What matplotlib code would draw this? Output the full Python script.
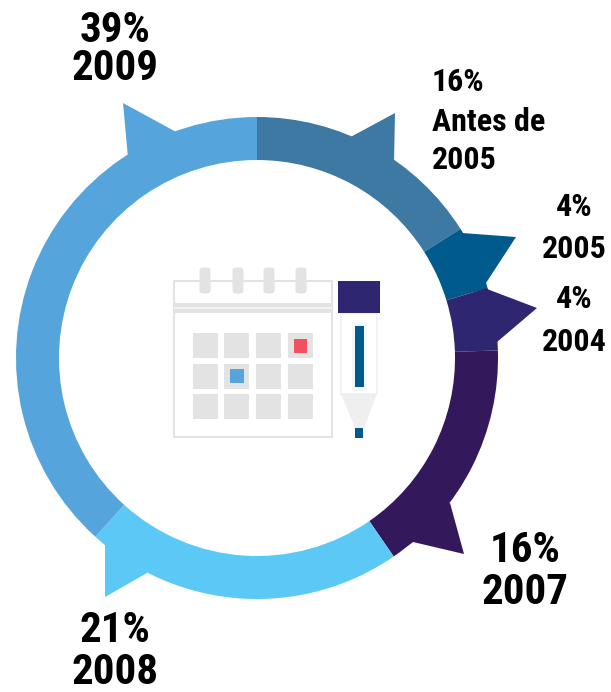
import matplotlib.pyplot as plt
from matplotlib.patches import Polygon, Rectangle, FancyBboxPatch
from matplotlib import font_manager as fm

# arc sweep per period, clockwise from the top, in percent as measured on the ring
periods = ['Antes de 2005', '2005', '2004', '2007', '2008', '2009']
shares = [16.0, 4.3, 4.2, 15.9, 21.3, 38.3]
colors = ['#3E79A3', '#005A8C', '#2E2671', '#33195C', '#5CC8F5', '#55A5DC']

W, H = 611, 692
installed = {f.name for f in fm.fontManager.ttflist}
narrow = ['Liberation Sans Narrow', 'Roboto Condensed', 'Archivo Narrow', 'Encode Sans Condensed', 'Asap Condensed']
plt.rcParams['font.family'] = [f for f in narrow if f in installed] + ['Liberation Sans', 'DejaVu Sans']

fig = plt.figure(figsize=(W / 100, H / 100), dpi=100)
ax = fig.add_axes([0, 0, 1, 1])
ax.set_xlim(0, W)
ax.set_ylim(0, H)
ax.axis('off')


def poly(pts, color, z=1):
    ax.add_patch(Polygon([(x, H - y) for x, y in pts], closed=True, fc=color, ec='none', zorder=z))


def rect(x0, y0, x1, y1, color, z=3, **kw):
    ax.add_patch(Rectangle((x0, H - y1), x1 - x0, y1 - y0, fc=kw.pop('fc', color), ec=kw.pop('ec', 'none'), zorder=z, **kw))


# pointers stuck on the ring
poly([(345, 140), (395, 113), (394, 162), (380, 180)], colors[0])
poly([(462, 233), (516, 237), (486, 283), (487, 290), (450, 295), (440, 250)], colors[1])
poly([(487, 289), (537, 308), (497, 342), (497, 347), (465, 347), (455, 300)], colors[2])
poly([(450, 503), (464, 554), (413, 542), (400, 551), (395, 515)], colors[3])
poly([(100, 540), (105, 545), (105, 597), (147, 573), (160, 540)], colors[4])
poly([(123, 103), (128, 158), (155, 185), (190, 140), (178, 133)], colors[5])

ax.pie(shares, colors=colors, startangle=90, counterclock=False, radius=241,
       center=(257, H - 358), frame=True, wedgeprops=dict(width=43, linewidth=0))
ax.set_xlim(0, W)
ax.set_ylim(0, H)
ax.set_aspect('auto')
ax.axis('off')

# calendar
grey = '#E3E3E3'
ax.add_patch(Rectangle((174, H - 437), 158, 156, fc='white', ec=grey, lw=1.5, zorder=3))
rect(174, 303, 332, 313, grey)
rect(174, 307, 332, 309, '#F4F4F4', z=4)
for x in [205, 238, 269, 301]:
    ax.add_patch(FancyBboxPatch((x - 2, H - 290), 4, 19, boxstyle='round,pad=3.5', fc=grey, ec='none', zorder=4))
for y0 in [333, 364, 394]:
    for x0 in [193, 224, 256, 288]:
        rect(x0, y0, x0 + 25, y0 + 25, grey, z=4)
rect(294, 339, 307, 353, '#F0505F', z=5)
rect(230, 369, 244, 383, '#55A5DC', z=5)

# pen
rect(341, 313, 377, 394, 'white', ec='#F0F0F2', lw=1.2)
rect(352, 322, 367, 391, '#F5F6F8', z=4)
rect(355, 326, 364, 387, colors[1], z=5)
poly([(341, 394), (377, 394), (364, 428), (355, 428)], '#EFEFEF', 3)
rect(355, 428, 363, 438, colors[1])
rect(338, 281, 380, 313, colors[2], z=5)

big = dict(fontsize=31, fontweight='bold', color='black', ha='center', va='center')
small = dict(fontsize=23, fontweight='bold', color='black', va='center')
for txt, x, y in [('39%', 115, 30), ('2009', 115, 69), ('16%', 525, 551), ('2007', 525, 593),
                  ('21%', 115, 631), ('2008', 115, 672)]:
    ax.text(x, H - y, txt, **big)
for txt, y in [('16%', 82), ('Antes de', 122), ('2005', 160)]:
    ax.text(432, H - y, txt, ha='left', **small)
for txt, y in [('4%', 207), ('2005', 249), ('4%', 299), ('2004', 342)]:
    ax.text(574, H - y, txt, ha='center', **small)

fig.savefig('out.png', dpi=100, facecolor='white')
